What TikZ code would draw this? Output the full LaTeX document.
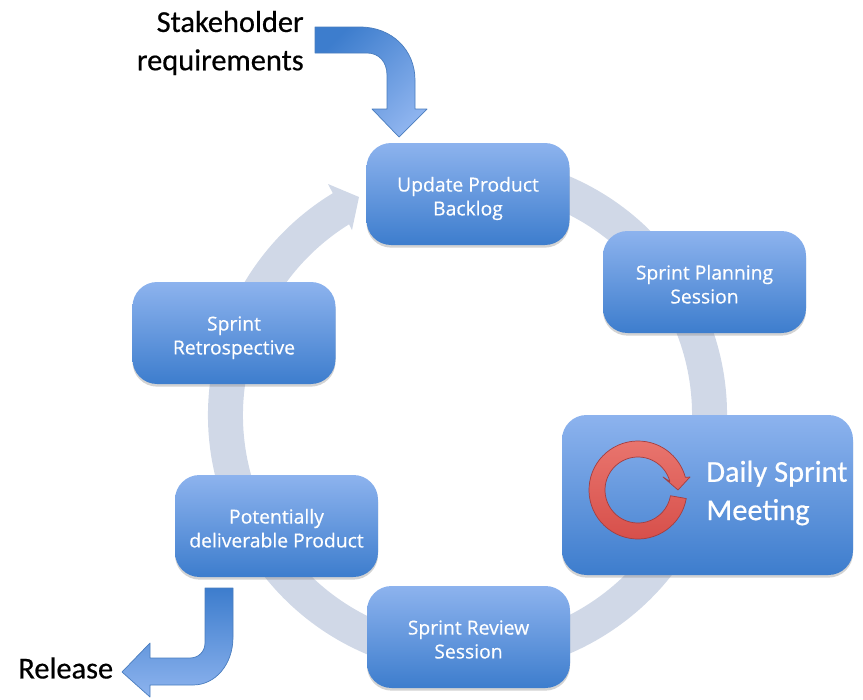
\documentclass[tikz,border=0pt]{standalone}
\usepackage{fontspec}
\setmainfont{Carlito}
\newfontfamily\boxfont[FakeBold=0.4]{Open Sans}
\newfontfamily\blackfont[FakeBold=0.5]{Carlito}
\usetikzlibrary{shadows}
\definecolor{boxtop}{HTML}{8DB3EE}
\definecolor{boxbottom}{HTML}{3D7DCD}
\definecolor{ringgray}{HTML}{D0D8E7}
\definecolor{arrowedge}{HTML}{4A7DBE}
\definecolor{looptop}{HTML}{E9766F}
\definecolor{loopbottom}{HTML}{D64E49}
\definecolor{loopedge}{HTML}{A33E40}
\tikzset{
  sprintbox/.style={rounded corners=14pt,top color=boxtop,bottom color=boxbottom,text=white,
    align=center,font=\boxfont\fontsize{11}{13.6}\selectfont,inner sep=0pt,text depth=0pt,
    minimum width=203*0.02cm,minimum height=102*0.02cm,
    drop shadow={shadow xshift=0pt,shadow yshift=-1.5pt,opacity=.35}},
  bigtext/.style={font=\blackfont\fontsize{17.3}{21.8}\selectfont,inner sep=0pt},
  bluearrow/.style={draw=arrowedge,line width=.4pt,line join=round},
  ringline/.style={draw=ringgray,line width=35*0.02cm}
}
\begin{document}
\begin{tikzpicture}[x=0.02cm,y=-0.02cm]
  \useasboundingbox (0,0) rectangle (863,700);

  % big ring behind the boxes
  \coordinate (ringcenter) at (467.5,415);
  \draw[ringline] ([shift={(-80:242)}]ringcenter) arc[start angle=-80,end angle=238.8,radius=242];
  \fill[ringgray] (328,184) -- (359,197) -- (352,230) -- cycle;

  \foreach \name/\px/\py/\boxtext in {
    update/468/194/{Update Product\\Backlog},
    planning/704.5/282/{Sprint Planning\\Session},
    review/468.5/637/{Sprint Review\\Session},
    deliver/276.5/526/{Potentially\\deliverable Product},
    retro/234/333/{Sprint\\Retrospective}}
  {
    \node[sprintbox] (\name) at (\px,\py) {\rule{0pt}{10.8pt}\boxtext};
  }

  \node[sprintbox,minimum width=291*0.02cm,minimum height=160*0.02cm] (daily) at (707.5,495) {};
  \node[bigtext,text=white,align=left,anchor=west] (dailytext) at (706,493) {Daily Sprint\\Meeting};

  % red loop inside the daily box
  \coordinate (loopcenter) at (638,490);
  \draw[draw=loopedge,line width=.4pt,top color=looptop,bottom color=loopbottom,line join=round]
    ([shift={(10:49)}]loopcenter) arc[start angle=10,end angle=345,radius=49]
    -- (690,477) -- (678,490) -- (663,477)
    -- ([shift={(345:33)}]loopcenter) arc[start angle=345,end angle=10,radius=33] -- cycle;

  \node[bigtext,align=right,anchor=east] (stake) at (304,43) {Stakeholder\\requirements};
  \node[bigtext,anchor=west] (release) at (18,668) {Release};

  % bent arrows
  \draw[bluearrow,top color=boxbottom,bottom color=boxtop,shading angle=45]
    (315,27) -- (360,27) .. controls (392,27) and (415,50) .. (415,80) -- (415,109) -- (427,109)
    -- (399,137) -- (372,109) -- (387,109) -- (387,75) .. controls (387,62) and (379,53) .. (367,53)
    -- (315,53) -- cycle;
  \draw[bluearrow,top color=boxbottom,bottom color=boxtop]
    (205,588) -- (233,588) -- (233,637) .. controls (233,665) and (215,685) .. (193,685) -- (150,685)
    -- (150,697) -- (122,672) -- (150,643) -- (150,658) -- (190,658)
    .. controls (198,658) and (205,652) .. (205,643) -- cycle;
\end{tikzpicture}
\end{document}
